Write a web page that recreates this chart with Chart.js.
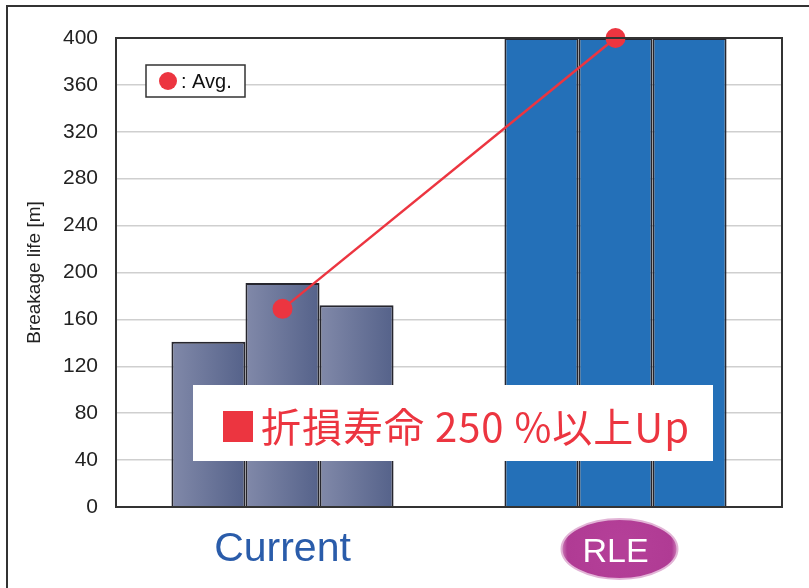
<!DOCTYPE html>
<html>
<head>
<meta charset="utf-8">
<script src="https://cdn.jsdelivr.net/npm/chart.js@4.4.1/dist/chart.umd.min.js"></script>
<style>
  html, body { margin: 0; padding: 0; background: #fff; }
  #wrap { position: relative; width: 809px; height: 588px; }
</style>
</head>
<body>
<div id="wrap"><canvas id="chart"></canvas></div>
<script>
// datos
const categorias = ['Current', 'RLE'];
const muestra1 = [141, 400];
const muestra2 = [191, 400];
const muestra3 = [172, 400];
const promedio = [169, 400];
const yTicks = [0, 40, 80, 120, 160, 200, 240, 280, 320, 360, 400];

const rojo = '#ec3540';
const azulRLE = '#2470b8';
const catPct = 0.667;

// degradado para las barras de "Current"
function rellenoBarra(ctx) {
    if (ctx.type !== 'data') return '#6f7a9c';
    if (ctx.dataIndex === 1) return azulRLE;
    const chart = ctx.chart;
    const x = chart.scales.x;
    if (!x || !chart.chartArea) return '#6f7a9c';
    const centro = x.getPixelForValue(ctx.dataIndex);
    const anchoGrupo = (x.width / categorias.length) * catPct;
    const izq = centro - anchoGrupo / 2 + ctx.datasetIndex * anchoGrupo / 3;
    const g = chart.ctx.createLinearGradient(izq, 0, izq + anchoGrupo / 3, 0);
    g.addColorStop(0, '#8189a9');
    g.addColorStop(1, '#55628a');
    return g;
}

const decoracion = {
    id: 'decoracion',
    beforeDraw(chart) {
        const c = chart.ctx;
        const x = chart.scales.x;
        // marco exterior
        c.save();
        c.strokeStyle = '#333';
        c.lineWidth = 2;
        c.beginPath();
        c.moveTo(7, 600);
        c.lineTo(7, 6);
        c.lineTo(820, 6);
        c.stroke();
        // elipse detrás de "RLE"
        const cx = x.getPixelForValue(1) + 4;
        const cy = 549;
        const g = c.createRadialGradient(cx, cy - 4, 10, cx, cy, 60);
        g.addColorStop(0, '#b43f98');
        g.addColorStop(0.85, '#b03b94');
        g.addColorStop(1, '#d79bc6');
        c.fillStyle = g;
        c.beginPath();
        c.ellipse(cx, cy, 58, 30, 0, 0, Math.PI * 2);
        c.fill();
        c.strokeStyle = '#e2b4d6';
        c.lineWidth = 2;
        c.stroke();
        c.restore();
    },
    afterDatasetsDraw(chart) {
        const c = chart.ctx;
        const a = chart.chartArea;
        c.save();
        // borde del área
        c.strokeStyle = '#333';
        c.lineWidth = 2;
        c.strokeRect(a.left, a.top, a.right - a.left, a.bottom - a.top);
        // leyenda
        c.fillStyle = '#fff';
        c.fillRect(146, 65, 99, 32);
        c.strokeStyle = '#333';
        c.lineWidth = 1.5;
        c.strokeRect(146, 65, 99, 32);
        c.fillStyle = rojo;
        c.beginPath();
        c.arc(168, 81, 9, 0, Math.PI * 2);
        c.fill();
        c.fillStyle = '#111';
        c.font = '20px "Liberation Sans", Arial, sans-serif';
        c.textBaseline = 'middle';
        c.textAlign = 'left';
        c.fillText(': Avg.', 181, 82);
        // cuadro de texto
        c.fillStyle = '#fff';
        c.fillRect(193, 385, 520, 76);
        c.fillStyle = rojo;
        c.fillRect(223, 411, 30, 31);
        c.font = '40px "Noto Sans CJK JP", sans-serif';
        c.letterSpacing = '1px';
        c.textBaseline = 'alphabetic';
        c.fillText('折損寿命 250 %以上Up', 261, 442);
        c.restore();
    }
};

const datasetsBarras = [muestra1, muestra2, muestra3].map((d, i) => ({
    type: 'bar',
    label: 'Muestra ' + (i + 1),
    data: d,
    backgroundColor: rellenoBarra,
    borderColor: '#26262e',
    borderWidth: 2,
    barPercentage: 1,
    categoryPercentage: catPct,
    order: 1
}));

new Chart(document.getElementById('chart'), {
    type: 'bar',
    data: {
        labels: categorias,
        datasets: [
            ...datasetsBarras,
            {
                type: 'line',
                label: 'Avg.',
                data: promedio,
                borderColor: rojo,
                borderWidth: 2.5,
                pointRadius: 10,
                pointBackgroundColor: rojo,
                pointBorderWidth: 0,
                clip: false,
                order: 0
            }
        ]
    },
    options: {
        responsive: true,
        maintainAspectRatio: false,
        animation: false,
        layout: { padding: { left: 0, right: 27, top: 38, bottom: 0 } },
        plugins: { legend: { display: false }, tooltip: { enabled: false } },
        scales: {
            x: {
                grid: { display: false },
                border: { display: true, color: '#333', width: 2 },
                afterFit(scale) { scale.height = 81; },
                ticks: {
                    padding: 10,
                    color: ctx => ctx.index === 1 ? '#ffffff' : '#2a5caa',
                    font: ctx => ctx.index === 1
                        ? { family: '"Liberation Sans", Arial, sans-serif', size: 34, lineHeight: 1.65 }
                        : { family: '"Liberation Sans", Arial, sans-serif', size: 41, lineHeight: 1.2 }
                }
            },
            y: {
                min: 0,
                max: 400,
                afterFit(scale) { scale.width = 116; },
                afterBuildTicks(scale) { scale.ticks = yTicks.map(v => ({ value: v })); },
                grid: { color: '#cfcfcf', lineWidth: 1.5, drawTicks: false },
                border: { display: true, color: '#333', width: 2 },
                ticks: {
                    padding: 18,
                    color: '#222',
                    font: { family: '"Liberation Sans", Arial, sans-serif', size: 21 }
                },
                title: {
                    display: true,
                    text: 'Breakage life [m]',
                    color: '#222',
                    font: { family: '"Liberation Sans", Arial, sans-serif', size: 19 },
                    padding: { top: 23, bottom: 0 }
                }
            }
        }
    },
    plugins: [decoracion]
});
</script>
</body>
</html>
